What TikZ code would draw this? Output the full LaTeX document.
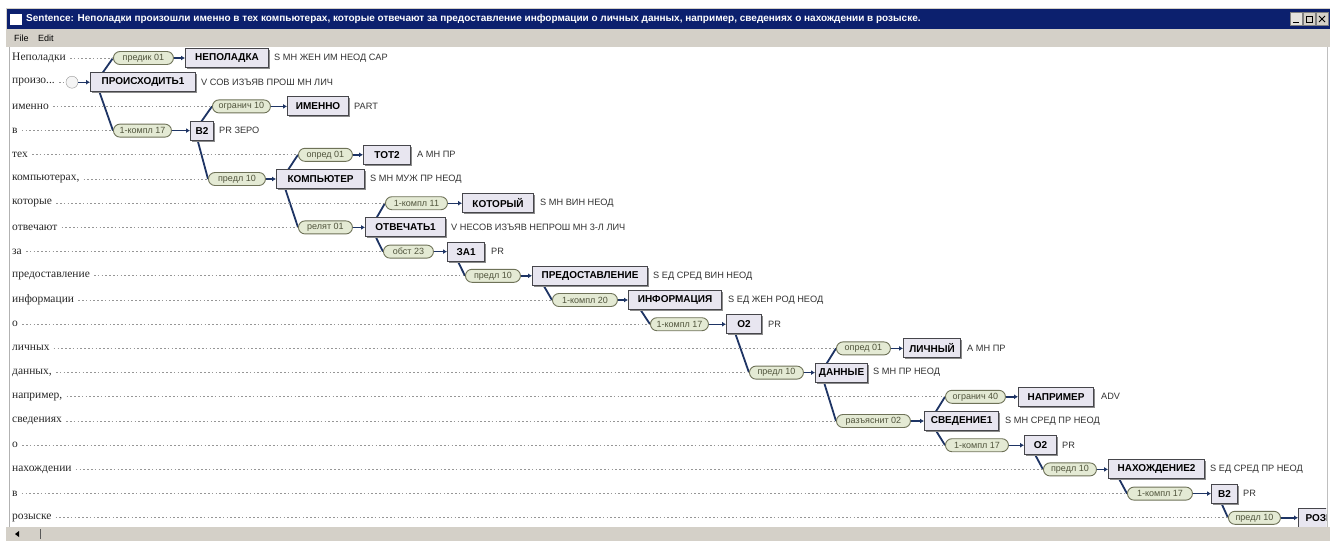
\documentclass[tikz,border=0pt]{standalone}
\usepackage{fontspec}
\setmainfont{Liberation Serif}
\setsansfont{Liberation Sans}
\usetikzlibrary{backgrounds,arrows.meta,shadows,calc}
\definecolor{titleblue}{RGB}{12,32,110}
\definecolor{uigray}{RGB}{212,208,200}
\definecolor{treeblue}{RGB}{30,52,100}
\definecolor{pillfill}{RGB}{228,234,212}
\definecolor{pilldraw}{RGB}{110,114,88}
\definecolor{pilltext}{RGB}{80,84,60}
\definecolor{boxfill}{RGB}{232,230,240}
\definecolor{boxdraw}{RGB}{70,70,75}
\definecolor{gramtext}{RGB}{50,50,50}
\definecolor{dotgray}{RGB}{150,150,150}
\tikzset{
  word/.style={anchor=west, inner sep=0pt, font=\rmfamily\fontsize{11.5}{12}\selectfont, text=black!85},
  pill/.style={anchor=west, rounded corners=6.5pt, draw=pilldraw, fill=pillfill, line width=0.9pt,
    minimum height=13pt, minimum width=#1, inner xsep=0pt, inner ysep=0pt, text=pilltext,
    font=\sffamily\fontsize{9}{10}\selectfont},
  wbox/.style={anchor=west, draw=boxdraw, fill=boxfill, line width=1.1pt, minimum height=19pt,
    minimum width=#1, inner xsep=0pt, inner ysep=0pt, font=\sffamily\bfseries\fontsize{10}{11}\selectfont,
    drop shadow={shadow xshift=1.5pt, shadow yshift=-1.5pt, fill=black!45, opacity=1}},
  gram/.style={anchor=west, inner sep=0pt, font=\sffamily\fontsize{9.2}{10}\selectfont, text=gramtext},
  treeedge/.style={draw=treeblue, line width=1.8pt},
  arr/.style={draw=treeblue, line width=1.4pt, -{Latex[length=4pt,width=5pt]}},
  dots/.style={draw=dotgray, line width=0.8pt, dash pattern=on 1.6pt off 2.2pt},
  menutext/.style={anchor=west, inner sep=0pt, font=\sffamily\fontsize{9}{10}\selectfont},
}
\begin{document}
\begin{tikzpicture}[x=1pt,y=-1pt]
\useasboundingbox (0,0) rectangle (1330,541);
% window chrome
\fill[uigray] (6,8) rectangle (1330,47);
\fill[titleblue] (7,9) rectangle (1330,29);
\node[draw=white, fill=white, minimum width=11pt, minimum height=10pt, inner sep=0pt] (icon) at (16,19) {};
\node[anchor=west, inner sep=0pt, text=white, font=\sffamily\bfseries\fontsize{10}{11}\selectfont] (title) at (26,19)
  {Sentence: Неполадки произошли именно в тех компьютерах, которые отвечают за предоставление информации о личных данных, например, сведениях о нахождении в розыске.};
\node[fill=uigray!60!white, draw=gray, minimum width=12pt, minimum height=13pt, inner sep=0pt] (bmin) at (1296,19) {};
\node[fill=uigray, draw=gray, minimum width=12pt, minimum height=13pt, inner sep=0pt] (bmax) at (1309,19) {};
\node[fill=uigray, draw=gray, minimum width=12pt, minimum height=13pt, inner sep=0pt] (bcls) at (1322,19) {};
\draw[black, line width=1pt] ($(bmin.center)+(-3,3)$) -- ($(bmin.center)+(3,3)$);
\draw[black, line width=0.8pt] ($(bmax.center)+(-3,-3)$) rectangle ($(bmax.center)+(3,3)$);
\draw[black, line width=1pt] ($(bcls.center)+(-3,-3)$) -- ($(bcls.center)+(3,3)$) ($(bcls.center)+(-3,3)$) -- ($(bcls.center)+(3,-3)$);
\node[menutext] (mfile) at (14,38) {File};
\node[menutext] (medit) at (38,38) {Edit};
\draw[gray!60] (9,47) -- (9,527);
\draw[gray!50] (1327,47) -- (1327,527);

% left words
\node[word] (w0) at (12,58) {Неполадки};
\node[word] (w1) at (12,82.2) {произо...};
\node[word] (w2) at (12,106.4) {именно};
\node[word] (w3) at (12,130.6) {в};
\node[word] (w4) at (12,154.8) {тех};
\node[word] (w5) at (12,179) {компьютерах,};
\node[word] (w6) at (12,203.2) {которые};
\node[word] (w7) at (12,227.4) {отвечают};
\node[word] (w8) at (12,251.6) {за};
\node[word] (w9) at (12,275.8) {предоставление};
\node[word] (w10) at (12,300) {информации};
\node[word] (w11) at (12,324.2) {о};
\node[word] (w12) at (12,348.4) {личных};
\node[word] (w13) at (12,372.6) {данных,};
\node[word] (w14) at (12,396.8) {например,};
\node[word] (w15) at (12,421) {сведениях};
\node[word] (w16) at (12,445.2) {о};
\node[word] (w17) at (12,469.4) {нахождении};
\node[word] (w18) at (12,493.6) {в};
\node[word] (w19) at (12,517.8) {розыске};

% row 0
\node[pill=60] (p0) at (113,58) {предик 01};
\node[wbox=83] (b0) at (185,58) {НЕПОЛАДКА};
\node[gram] (g0) at (274,58) {S МН ЖЕН ИМ НЕОД САР};
% row 1
\node[circle, draw=gray!80, fill=gray!8, minimum size=12pt, inner sep=0pt] (c1) at (72,82.2) {};
\node[wbox=105] (b1) at (90,82.2) {ПРОИСХОДИТЬ1};
\node[gram] (g1) at (201,82.2) {V СОВ ИЗЪЯВ ПРОШ МН ЛИЧ};
% row 2
\node[pill=58] (p2) at (212,106.4) {огранич 10};
\node[wbox=61] (b2) at (287,106.4) {ИМЕННО};
\node[gram] (g2) at (354,106.4) {PART};
% row 3
\node[pill=58] (p3) at (113,130.6) {1-компл 17};
\node[wbox=23] (b3) at (190,130.6) {В2};
\node[gram] (g3) at (219,130.6) {PR ЗЕРО};
% row 4
\node[pill=54] (p4) at (298,154.8) {опред 01};
\node[wbox=47] (b4) at (363,154.8) {ТОТ2};
\node[gram] (g4) at (417,154.8) {A МН ПР};
% row 5
\node[pill=57] (p5) at (208,179) {предл 10};
\node[wbox=88] (b5) at (276,179) {КОМПЬЮТЕР};
\node[gram] (g5) at (370,179) {S МН МУЖ ПР НЕОД};
% row 6
\node[pill=62] (p6) at (385,203.2) {1-компл 11};
\node[wbox=71] (b6) at (462,203.2) {КОТОРЫЙ};
\node[gram] (g6) at (540,203.2) {S МН ВИН НЕОД};
% row 7
\node[pill=54] (p7) at (298,227.4) {релят 01};
\node[wbox=80] (b7) at (365,227.4) {ОТВЕЧАТЬ1};
\node[gram] (g7) at (451,227.4) {V НЕСОВ ИЗЪЯВ НЕПРОШ МН 3-Л ЛИЧ};
% row 8
\node[pill=50] (p8) at (383,251.6) {обст 23};
\node[wbox=37] (b8) at (447,251.6) {ЗА1};
\node[gram] (g8) at (491,251.6) {PR};
% row 9
\node[pill=55] (p9) at (465,275.8) {предл 10};
\node[wbox=115] (b9) at (532,275.8) {ПРЕДОСТАВЛЕНИЕ};
\node[gram] (g9) at (653,275.8) {S ЕД СРЕД ВИН НЕОД};
% row 10
\node[pill=65] (p10) at (552,300) {1-компл 20};
\node[wbox=93] (b10) at (628,300) {ИНФОРМАЦИЯ};
\node[gram] (g10) at (728,300) {S ЕД ЖЕН РОД НЕОД};
% row 11
\node[pill=58] (p11) at (650,324.2) {1-компл 17};
\node[wbox=35] (b11) at (726,324.2) {О2};
\node[gram] (g11) at (768,324.2) {PR};
% row 12
\node[pill=54] (p12) at (836,348.4) {опред 01};
\node[wbox=57] (b12) at (903,348.4) {ЛИЧНЫЙ};
\node[gram] (g12) at (967,348.4) {A МН ПР};
% row 13
\node[pill=54] (p13) at (749,372.6) {предл 10};
\node[wbox=52] (b13) at (815,372.6) {ДАННЫЕ};
\node[gram] (g13) at (873,372.6) {S МН ПР НЕОД};
% row 14
\node[pill=60] (p14) at (945,396.8) {огранич 40};
\node[wbox=75] (b14) at (1018,396.8) {НАПРИМЕР};
\node[gram] (g14) at (1101,396.8) {ADV};
% row 15
\node[pill=74] (p15) at (836,421) {разъяснит 02};
\node[wbox=74] (b15) at (924,421) {СВЕДЕНИЕ1};
\node[gram] (g15) at (1005,421) {S МН СРЕД ПР НЕОД};
% row 16
\node[pill=63] (p16) at (945,445.2) {1-компл 17};
\node[wbox=32] (b16) at (1024,445.2) {О2};
\node[gram] (g16) at (1062,445.2) {PR};
% row 17
\node[pill=53] (p17) at (1043,469.4) {предл 10};
\node[wbox=96] (b17) at (1108,469.4) {НАХОЖДЕНИЕ2};
\node[gram] (g17) at (1210,469.4) {S ЕД СРЕД ПР НЕОД};
% row 18
\node[pill=65] (p18) at (1127,493.6) {1-компл 17};
\node[wbox=26] (b18) at (1211,493.6) {В2};
\node[gram] (g18) at (1243,493.6) {PR};
% row 19
\node[pill=52] (p19) at (1228,517.8) {предл 10};
\begin{scope}
\clip (0,47) rectangle (1326,527);
\node[wbox=10, inner xsep=7pt] (b19) at (1298,517.8) {РОЗЫСК};
\end{scope}

% arrows pill -> box
\draw[arr] (c1.east) -- (b1.west);
\foreach \i in {0,2,3,4,5,6,7,8,9,10,11,12,13,14,15,16,17,18,19}{
  \draw[arr] (p\i.east) -- (b\i.west);
}
% dotted guide lines
\draw[dots] ($(w1.east)+(4,0)$) -- (c1.west);
\foreach \i in {0,2,3,4,5,6,7,8,9,10,11,12,13,14,15,16,17,18,19}{
  \draw[dots] ($(w\i.east)+(4,0)$) -- (p\i.west);
}
% tree edges
\begin{scope}[on background layer]
\draw[treeedge] ($(b1.west)+(6,0)$) -- (p0.west);
\draw[treeedge] ($(b1.west)+(6,0)$) -- (p3.west);
\draw[treeedge] ($(b3.west)+(5,0)$) -- (p2.west);
\draw[treeedge] ($(b3.west)+(5,0)$) -- (p5.west);
\draw[treeedge] ($(b5.west)+(6,0)$) -- (p4.west);
\draw[treeedge] ($(b5.west)+(6,0)$) -- (p7.west);
\draw[treeedge] ($(b7.west)+(6,0)$) -- (p6.west);
\draw[treeedge] ($(b7.west)+(6,0)$) -- (p8.west);
\draw[treeedge] ($(b8.west)+(6,0)$) -- (p9.west);
\draw[treeedge] ($(b9.west)+(6,0)$) -- (p10.west);
\draw[treeedge] ($(b10.west)+(6,0)$) -- (p11.west);
\draw[treeedge] ($(b11.west)+(6,0)$) -- (p13.west);
\draw[treeedge] ($(b13.west)+(6,0)$) -- (p12.west);
\draw[treeedge] ($(b13.west)+(6,0)$) -- (p15.west);
\draw[treeedge] ($(b15.west)+(6,0)$) -- (p14.west);
\draw[treeedge] ($(b15.west)+(6,0)$) -- (p16.west);
\draw[treeedge] ($(b16.west)+(6,0)$) -- (p17.west);
\draw[treeedge] ($(b17.west)+(6,0)$) -- (p18.west);
\draw[treeedge] ($(b18.west)+(6,0)$) -- (p19.west);
\end{scope}

% bottom scrollbar
\fill[uigray] (6,527) rectangle (1330,541);
\fill[black] (15,534) -- (19,531) -- (19,537) -- cycle;
\draw[gray!70!black, line width=1pt] (40,529) -- (40,539);
\end{tikzpicture}
\end{document}
